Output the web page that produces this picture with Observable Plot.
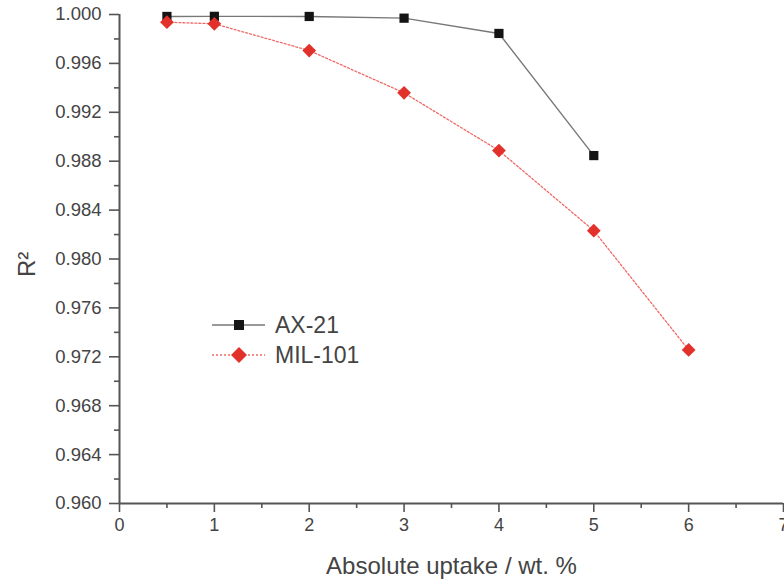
<!DOCTYPE html>
<html>
<head>
<meta charset="utf-8">
<script src="https://cdn.jsdelivr.net/npm/d3@7"></script>
<script src="https://cdn.jsdelivr.net/npm/@observablehq/plot@0.6"></script>
<style>
  html, body { margin: 0; padding: 0; background: #fff; }
  #wrap { position: relative; width: 784px; height: 585px; font-family: "Liberation Sans", Arial, sans-serif; }
  #legend { position: absolute; left: 0; top: 0; pointer-events: none; }
</style>
</head>
<body>
<div id="wrap"></div>
<script>
// ---- data ----
const ax21X = [0.5, 1, 2, 3, 4, 5];
const ax21R2 = [0.99984, 0.99985, 0.99984, 0.99970, 0.99845, 0.98846];
const milX = [0.5, 1, 2, 3, 4, 5, 6];
const milR2 = [0.99937, 0.99924, 0.99705, 0.99359, 0.98887, 0.98232, 0.97256];
const seriesNames = ["AX-21", "MIL-101"];
const xTicks = [0, 1, 2, 3, 4, 5, 6, 7];
const xMinor = [0.5, 1.5, 2.5, 3.5, 4.5, 5.5, 6.5];
const yTicks = [0.960, 0.964, 0.968, 0.972, 0.976, 0.980, 0.984, 0.988, 0.992, 0.996, 1.000];
const yMinor = [0.962, 0.966, 0.970, 0.974, 0.978, 0.982, 0.986, 0.990, 0.994, 0.998];
const xLabel = "Absolute uptake / wt. %";
const yLabel = "R²";

const ax21 = ax21X.map((x, i) => ({x, y: ax21R2[i]}));
const mil = milX.map((x, i) => ({x, y: milR2[i]}));

const axisColor = "#555";
const textColor = "#444";
const red = "#e2302b";

const chart = Plot.plot({
  width: 784,
  height: 585,
  marginLeft: 119,
  marginRight: 1,
  marginTop: 14,
  marginBottom: 82,
  style: { fontFamily: "Liberation Sans, Arial, sans-serif", background: "#fff", overflow: "visible" },
  x: { domain: [0, 7] },
  y: { domain: [0.960, 1.000] },
  marks: [
    Plot.axisX({ticks: xTicks, tickSize: 9, tickPadding: 6, tickFormat: d3.format("d"), fontSize: 18, color: textColor, stroke: axisColor, strokeWidth: 1.6, label: null}),
    Plot.axisX({ticks: xMinor, tickSize: 5, tickFormat: null, text: null, stroke: axisColor, strokeWidth: 1.6, label: null}),
    Plot.axisY({ticks: yTicks, tickSize: 10, tickPadding: 8, tickFormat: d3.format(".3f"), fontSize: 18.5, color: textColor, stroke: axisColor, strokeWidth: 1.6, label: null}),
    Plot.axisY({ticks: yMinor, tickSize: 5, text: null, stroke: axisColor, strokeWidth: 1.6, label: null}),
    Plot.ruleX([0], {stroke: axisColor, strokeWidth: 2}),
    Plot.ruleY([0.960], {stroke: axisColor, strokeWidth: 2}),
    Plot.text([xLabel], {frameAnchor: "bottom", dy: 63, fontSize: 24, fill: textColor, lineAnchor: "middle"}),
    Plot.text([yLabel], {frameAnchor: "left", dx: -92, dy: 18, rotate: -90, fontSize: 24, fill: textColor, lineAnchor: "middle"}),
    Plot.line(mil, {x: "x", y: "y", stroke: "#ef6a66", strokeWidth: 1.3, strokeDasharray: "2,2"}),
    Plot.line(ax21, {x: "x", y: "y", stroke: "#777", strokeWidth: 1.4}),
    Plot.dot(ax21, {x: "x", y: "y", symbol: "square", r: 5.2, fill: "#141414"}),
    Plot.dot(mil, {x: "x", y: "y", symbol: "diamond2", r: 6.2, fill: red})
  ]
});

const wrap = document.getElementById("wrap");
wrap.appendChild(chart);

// legend overlay
const leg = d3.select(wrap).append("svg").attr("id", "legend").attr("width", 784).attr("height", 585);
const rows = [
  {name: seriesNames[0], y: 325, stroke: "#777", dash: null, sym: "square"},
  {name: seriesNames[1], y: 355, stroke: "#ef6a66", dash: "2,2", sym: "diamond"}
];
rows.forEach(r => {
  leg.append("line").attr("x1", 212).attr("x2", 265).attr("y1", r.y).attr("y2", r.y)
    .attr("stroke", r.stroke).attr("stroke-width", 1.4).attr("stroke-dasharray", r.dash);
  if (r.sym === "square") {
    leg.append("rect").attr("x", 234).attr("y", r.y - 5).attr("width", 10).attr("height", 10).attr("fill", "#141414");
  } else {
    leg.append("path").attr("d", `M239,${r.y-8}L247,${r.y}L239,${r.y+8}L231,${r.y}Z`).attr("fill", red);
  }
  leg.append("text").attr("x", 275).attr("y", r.y).attr("dy", "0.35em")
    .attr("font-size", 23).attr("fill", textColor)
    .attr("font-family", "Liberation Sans, Arial, sans-serif").text(r.name);
});
</script>
</body>
</html>
